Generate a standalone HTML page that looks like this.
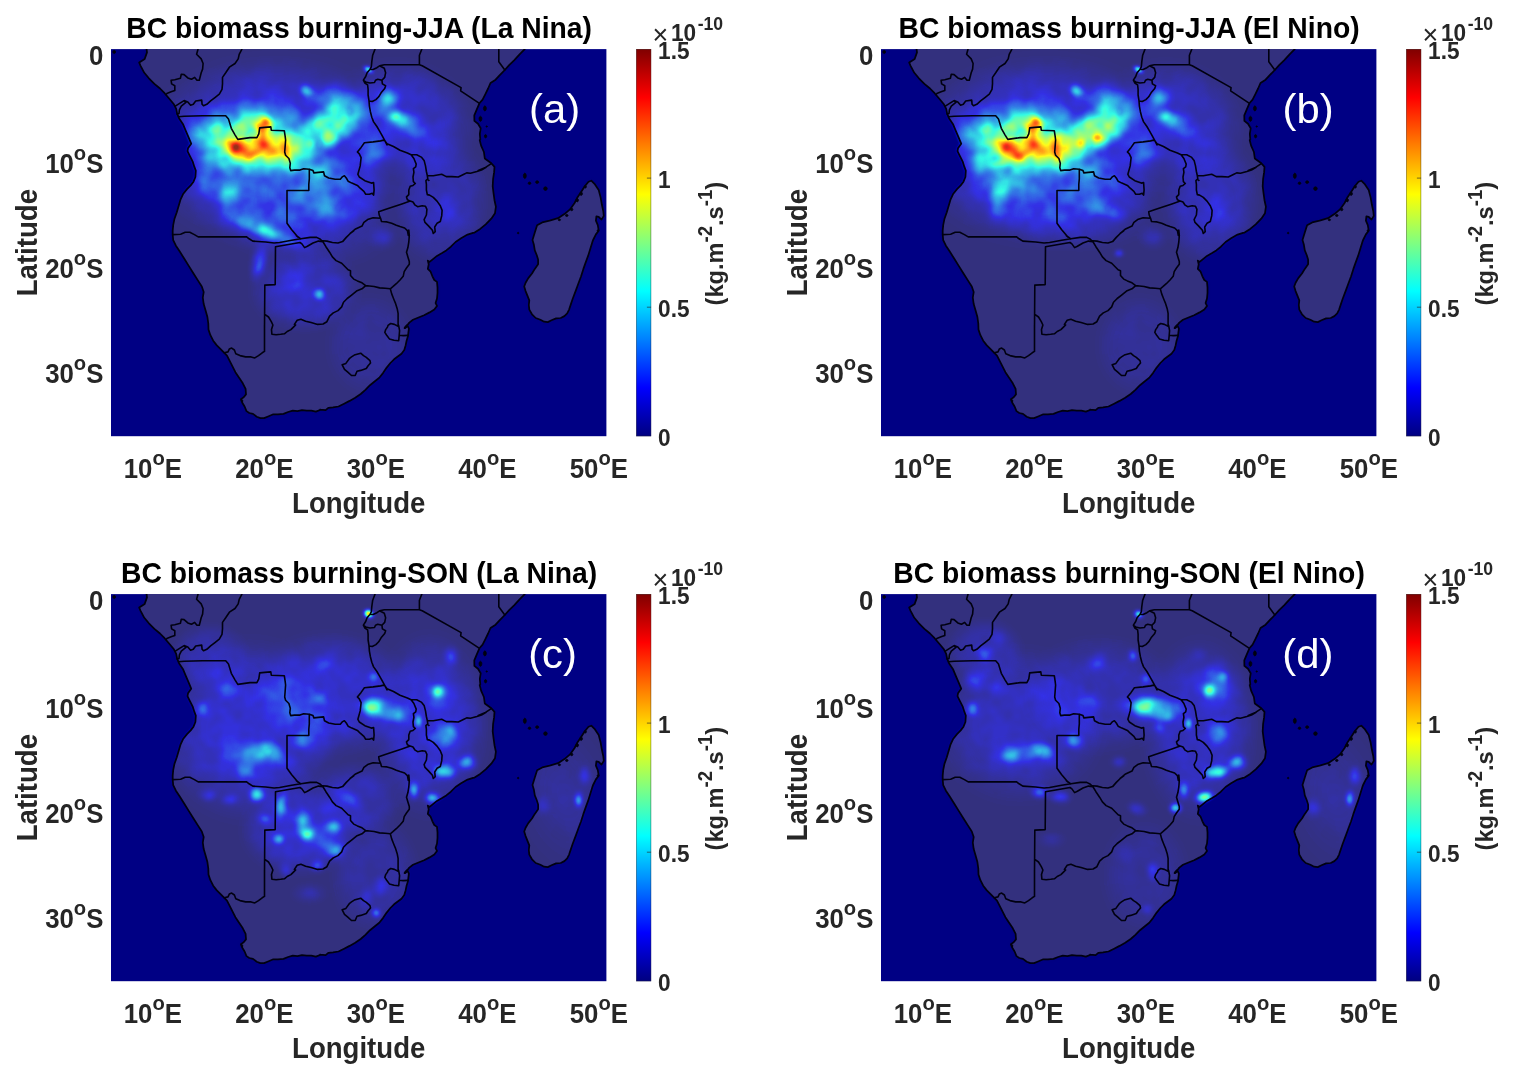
<!DOCTYPE html>
<html lang="en"><head><meta charset="utf-8"><title>BC biomass burning</title>
<style>html,body{margin:0;padding:0;background:#fff}svg{display:block}text{font-family:"Liberation Sans", Arial, Helvetica, sans-serif;font-weight:bold;fill:#262626}</style></head><body>
<svg width="1518" height="1080" viewBox="0 0 1518 1080">
<defs>
<linearGradient id="cb" x1="0" y1="1" x2="0" y2="0"><stop offset="0" stop-color="#000080"/><stop offset="0.03125" stop-color="#00009f"/><stop offset="0.0625" stop-color="#0000bf"/><stop offset="0.09375" stop-color="#0000df"/><stop offset="0.125" stop-color="#0000ff"/><stop offset="0.1562" stop-color="#0020ff"/><stop offset="0.1875" stop-color="#0040ff"/><stop offset="0.2188" stop-color="#0060ff"/><stop offset="0.25" stop-color="#0080ff"/><stop offset="0.2812" stop-color="#009fff"/><stop offset="0.3125" stop-color="#00bfff"/><stop offset="0.3438" stop-color="#00dfff"/><stop offset="0.375" stop-color="#00ffff"/><stop offset="0.4062" stop-color="#20ffdf"/><stop offset="0.4375" stop-color="#40ffbf"/><stop offset="0.4688" stop-color="#60ff9f"/><stop offset="0.5" stop-color="#80ff80"/><stop offset="0.5312" stop-color="#9fff60"/><stop offset="0.5625" stop-color="#bfff40"/><stop offset="0.5938" stop-color="#dfff20"/><stop offset="0.625" stop-color="#ffff00"/><stop offset="0.6562" stop-color="#ffdf00"/><stop offset="0.6875" stop-color="#ffbf00"/><stop offset="0.7188" stop-color="#ff9f00"/><stop offset="0.75" stop-color="#ff8000"/><stop offset="0.7812" stop-color="#ff6000"/><stop offset="0.8125" stop-color="#ff4000"/><stop offset="0.8438" stop-color="#ff2000"/><stop offset="0.875" stop-color="#ff0000"/><stop offset="0.9062" stop-color="#df0000"/><stop offset="0.9375" stop-color="#bf0000"/><stop offset="0.9688" stop-color="#9f0000"/><stop offset="1" stop-color="#800000"/></linearGradient>
<radialGradient id="g"><stop offset="0" stop-color="#fff" stop-opacity="1.000"/><stop offset="0.0833" stop-color="#fff" stop-opacity="0.977"/><stop offset="0.167" stop-color="#fff" stop-opacity="0.910"/><stop offset="0.25" stop-color="#fff" stop-opacity="0.809"/><stop offset="0.333" stop-color="#fff" stop-opacity="0.685"/><stop offset="0.417" stop-color="#fff" stop-opacity="0.552"/><stop offset="0.5" stop-color="#fff" stop-opacity="0.422"/><stop offset="0.583" stop-color="#fff" stop-opacity="0.305"/><stop offset="0.667" stop-color="#fff" stop-opacity="0.206"/><stop offset="0.75" stop-color="#fff" stop-opacity="0.127"/><stop offset="0.833" stop-color="#fff" stop-opacity="0.069"/><stop offset="0.917" stop-color="#fff" stop-opacity="0.028"/><stop offset="1" stop-color="#fff" stop-opacity="0.000"/></radialGradient>
<radialGradient id="f"><stop offset="0" stop-color="#fff" stop-opacity="1.000"/><stop offset="0.0833" stop-color="#fff" stop-opacity="1.000"/><stop offset="0.167" stop-color="#fff" stop-opacity="1.000"/><stop offset="0.25" stop-color="#fff" stop-opacity="1.000"/><stop offset="0.333" stop-color="#fff" stop-opacity="1.000"/><stop offset="0.417" stop-color="#fff" stop-opacity="0.998"/><stop offset="0.5" stop-color="#fff" stop-opacity="0.933"/><stop offset="0.583" stop-color="#fff" stop-opacity="0.787"/><stop offset="0.667" stop-color="#fff" stop-opacity="0.587"/><stop offset="0.75" stop-color="#fff" stop-opacity="0.371"/><stop offset="0.833" stop-color="#fff" stop-opacity="0.179"/><stop offset="0.917" stop-color="#fff" stop-opacity="0.047"/><stop offset="1" stop-color="#fff" stop-opacity="0.000"/></radialGradient>
<filter id="jet" x="0" y="0" width="100%" height="100%" filterUnits="objectBoundingBox" color-interpolation-filters="sRGB"><feGaussianBlur stdDeviation="1.4" result="f0"/><feTurbulence type="fractalNoise" baseFrequency="0.055" numOctaves="2" seed="7" result="n0"/><feGaussianBlur in="n0" stdDeviation="1.2"/><feColorMatrix type="matrix" values="0 0 0 0 1 0 0 0 0 1 0 0 0 0 1 0 0 0 2.2 -0.6" result="n1"/><feComposite in="f0" in2="n1" operator="arithmetic" k1="0.5" k2="0.76" k3="0" k4="0"/><feColorMatrix type="matrix" values="0 0 0 1 0 0 0 0 1 0 0 0 0 1 0 0 0 0 1 0"/><feComponentTransfer><feFuncR type="table" tableValues="0 0 0 0 0 0 0 0 0 0 0 0 0 0 0 0 0 0 0 0 0 0 0 0 0 0.0625 0.125 0.188 0.25 0.312 0.375 0.438 0.5 0.562 0.625 0.688 0.75 0.812 0.875 0.938 1 1 1 1 1 1 1 1 1 1 1 1 1 1 1 1 1 0.938 0.875 0.812 0.75 0.688 0.625 0.562 0.5"/><feFuncG type="table" tableValues="0 0 0 0 0 0 0 0 0 0.0625 0.125 0.188 0.25 0.312 0.375 0.438 0.5 0.562 0.625 0.688 0.75 0.812 0.875 0.938 1 1 1 1 1 1 1 1 1 1 1 1 1 1 1 1 1 0.938 0.875 0.812 0.75 0.688 0.625 0.562 0.5 0.438 0.375 0.312 0.25 0.188 0.125 0.0625 0 0 0 0 0 0 0 0 0"/><feFuncB type="table" tableValues="0.5 0.562 0.625 0.688 0.75 0.812 0.875 0.938 1 1 1 1 1 1 1 1 1 1 1 1 1 1 1 1 1 0.938 0.875 0.812 0.75 0.688 0.625 0.562 0.5 0.438 0.375 0.312 0.25 0.188 0.125 0.0625 0 0 0 0 0 0 0 0 0 0 0 0 0 0 0 0 0 0 0 0 0 0 0 0 0"/><feFuncA type="table" tableValues="1 1 1 1 1 1 1 1 1 1 1 1 1 1 1 1 1 1 1 1 1 1 1 1 1 1 1 1 1 1 1 1 1 1 1 1 1 1 1 1 1 1 1 1 1 1 1 1 1 1 1 1 1 1 1 1 1 1 1 1 1 1 1 1 1"/></feComponentTransfer></filter>
<clipPath id="pc"><rect x="0" y="0" width="495.4" height="387.1"/></clipPath>
<path id="land" d="M35.6 -4.1L35.6 0.1L36 3.3L33.7 9.8L28.2 13.5L29.6 16.7L33.3 23.7L37.9 29.2L43.4 34.8L49 39.4L53.6 44.1L58.3 49.6L62.9 55.2L65.2 59.8L66.1 64.4L68 69.1L72.2 75.5L74.9 82L77.7 88.5L80.2 94.6L77 99.2L76.5 102L78.3 105.7L81.6 112.2L83.4 117.8L84.8 121.5L84.4 127.9L82.5 132.6L79.7 136.3L76 140L72.3 144.6L69.6 150.2L67.7 156.6L65.8 163.1L63.5 169.6L62.2 176.1L61.7 181.6L61.7 185.5L62.2 191.1L64.9 196.6L68.6 202.2L73.3 209.6L77.9 217L82.5 224.4L87.2 231.8L90.8 237.4L92.7 242.9L91.8 248.5L92.7 255L94.6 261.5L96.4 267.9L97.3 274.4L97.5 280.5L99.4 286.1L102.2 291.6L105.8 296.3L109.6 300L113.3 303.7L116 306.5L118.8 312L121.6 317.6L124.4 323.1L128.1 328.7L131.8 334.2L134.6 339.8L135 345.3L132.7 348.1L129.9 350L131.3 353.7L133.6 357.4L135.5 362L138.3 363.9L142 364.8L145.7 367.6L149.4 369L153.1 369L157.7 367.1L162.3 365.2L167 365.2L172.5 364.8L177.1 362.9L181.8 361.5L186.4 362L191 361.1L195.7 361.5L200.3 361.5L204.9 362.5L209.6 360.6L209 360.6L214.6 361.1L217.3 358.8L222 358.3L227.5 357.4L233.1 354.6L238.6 351.8L244.2 348.6L249.7 344.9L254.4 340.7L259 336.1L263.6 332.4L268.3 328.7L272 324L275.7 318.5L279.4 313.9L283.1 310.2L286.8 307.4L290.5 304.6L293.3 300.9L294.6 296.3L295.6 291.6L297 287L297.4 283.3L297.9 279.6L296 275.9L293.6 279L295.5 277.2L298.3 273.5L302 270.7L307.5 268.4L313.1 266.1L318.6 263.3L323.3 260.5L326 256.8L324.6 254L326 249.4L326.5 243.9L326.5 238.3L326 232.8L323.3 230.9L321.4 227.2L319.6 222.6L316.8 219.8L317.7 215.2L316.8 211.5L318.6 212.8L321.4 210.5L326 206.8L330.7 204.1L335.3 201.3L339.9 197.6L344.6 192.9L350.1 189.2L356.6 185.5L362.1 183.7L363.6 183.5L369.2 179.8L374.7 175.2L380.3 169.6L384 164.1L384.9 157.6L383.5 151.1L382.6 144.6L381.7 137.2L382.1 129.8L383.1 123.3L383.5 117.8L380.3 114.1L373.8 109.4L372.9 102.9L370.1 96.5L368.7 90.9L369.3 90.3L368.8 84.8L369.7 79.2L367 74.6L363.4 71.8L363.3 66.3L365.6 60.7L368.4 54.2L371.6 50.5L374.4 45L377.1 39.4L379.5 33.9L384.6 30.6L388.3 26.5L393.8 20.9L398.4 15.8L403.1 11.2L408.6 5.2L413.7 0.1L413.7 -4.1ZM423.8 183.5L426.1 176.1L431.2 173.3L438.6 171.5L447 169.1L453.4 165L459 160.3L463.6 153.9L466.4 148.3L470.1 142.8L473.8 137.2L477.5 132.6L480.3 131.6L484 135.3L487.7 140.9L489.6 148.3L490.9 155.7L492.3 162.2L492.8 166.8L490.5 170.5L487.7 167.8L485.4 167.3L484.9 171.5L486.8 176.1L487.7 181.6L484.9 185.3L482.1 190.9L481.7 192L479.4 199.4L477.1 206.8L474.7 213.3L472.4 219.8L470.1 227.2L467.3 234.6L464.6 242L461.8 249.4L459.9 255L458.1 260.5L456.2 264.2L453.4 267L449.7 268.9L445.1 269.3L440.5 271.2L436.8 273L433.1 272.6L429.4 270.7L424.7 268.9L421 265.2L418.3 260.5L417.8 255.9L418.3 251.3L416.4 246.6L414.6 242L413.2 237.4L414.6 233.7L417.3 229L421 224.4L423.8 219.8L427.1 215.2L427.1 210.5L425.7 205.9L423.8 201.3L422.9 195.7L421.5 190.9Z"/>
<path id="bord" d="M87 0.1L85.6 5.2L90.2 9.8L92.1 14.4L91.6 20L90.2 23.7L88.3 31.1L86 31.1L83.7 28.3L80.5 30.2L76.8 28.8L73.1 25.5L70.3 25.1L69.4 29.2L63.8 30.6L60.1 31.1L60.6 34.8L63.8 36.6L63.8 41.3L60.1 42.7L56.4 44.1L55 45.4M130.9 0.1L128.2 5.2L127.2 9.8L124 14.4L118.4 18.1L114.7 23.7L111.5 28.3L111.5 34.8L111 40.3L108.3 45L103.6 48.7L99.9 51.5L95.8 55.2L92.5 56.6L91.1 55.2L90.7 51L84.7 51.9L82.3 55.2L79.6 56.1L76.8 52.8L73.1 51.5L69.4 53.8L64.3 57M73.1 51.5L74.9 53.3L70.3 57L68.4 60.7L68 64.4L66.1 64.9M67.5 67.7L73.1 67.2L91.6 66.7L114.7 66.7L117.5 70L120.3 79.2L124 85.7L126.8 90.3L139 88.5L145.9 88.5L147.8 84.8L148.7 78.8L153.8 78.3L159.8 77.8L160.3 81.1L173.3 81.6L174.2 87.6L174.6 90.9L174.2 96.5L173.7 102.9L174.6 106.2L177.9 109.4L179.3 114.1L178.8 118.7L179.7 121.5L183.4 121L189 121L192.7 119.6L198.3 120.1M198.3 120.1L198.3 129.8L197.8 135.3L197.8 141.4L176 141.4L176 174.2L180.7 180.7L187.1 188.1L185.3 186.5L189.9 189.7M198.3 120.1L202 121.5L202.9 123.8L207.5 123.3L212.6 122.8L213.5 126.6L217.7 128.9L224.2 130.2L229.3 130.2L231.6 127.5L233.4 126.6L235.3 128.9L237.1 132.1L240.9 134L246.4 136.3L249.2 139.1L252.9 142.3L254.7 145.1L258.4 145.1L261.2 144.1L262.6 146L263.1 140.9L262.6 133.5L260.3 134L253.8 131.6L248.3 127.9L246.9 125.2L249.2 116.8L250.1 108.5L248.3 104.8L246.4 102.9L250.1 98.3L253.4 93.7L262.1 92.8L269.6 91.8L273.3 90.9L271.4 91.3L273.7 91.3M264 0.1L261.7 6.1L260.8 12.6L260.3 17.7L258.9 20.4L256.1 23.7L254.7 27.4L252.4 31.1L253.8 33.9L256.6 35.7L257.1 40.3L257.1 45.9L258 51.5L258.4 57L259.4 62.6L260.8 68.1L262.6 72.8L265.9 77.4L268.6 82L271.4 87.1L273.7 91.3L276 95.9M258.9 20.4L262.1 20.4L265.9 18.6L268.6 16.7L273.3 19.1L274.6 23.7L273.7 28.3L270.9 31.1L271.4 34.8L274.6 36.6L273.7 39.4L270.5 43.1L267.7 47.7L264.9 50.5L261.2 52.4L258.3 51.9M270.9 31.1L266.8 30.2L264.5 31.1L263.5 33.4L258.9 33.9L254.7 32.9L252.9 31.6M268.6 16.7L273.3 15.6L308.4 15.6L311.2 16.7L350.1 38.5L349.6 41.7L351.5 43.1L367.7 53.8M310.8 0.1L308.4 6.1L308.4 15.6M387.8 0.1L387.8 12.6L393.8 20.9M273.3 90.9L276 94.6L282.5 97.4L289 101.1L296.4 103.9L300.1 105.7M300.1 105.7L305.7 105.7L310.3 108L313.1 111.3L314.5 116.8L315.4 122.4L316.3 126.6M316.3 126.6L322.3 126.6L327.9 125.6L330.7 125.2L335.3 127.5L340.9 127.5L347.3 127.9L352.9 125.2L355.7 123.8L359.4 124.2L365.9 122.4L370.5 121L375.1 118.2L367.3 121.5L373.8 118.7L380.3 114.5M300.1 105.7L302.9 109.4L305.2 115L304.7 117.8L302.4 119.6L302.9 123.3L302 127.9L302.4 132.6L304.3 134.4L302 136.3L299.2 137.2L297.8 140.9L297.8 145.5L295.5 147.8L296.4 150.6L299.2 152M299.2 152L302 152.9L303.8 155.7L306.6 157.6L311.2 156.6L314.5 157.1L315.9 160.3L315.4 165.9L313.1 170.5L314 173.3L317.7 177L321.4 181.2L322.3 184.4L324.2 182.6L323.7 177.9L326 174.2L329.3 172.4L330.7 166.8L331.1 161.3L329.3 156.6L326 152L322.3 148.3L318.6 146L316.3 145.5L315.4 140.9L315.4 135.3L314.9 131.6L316.8 129.8L316.3 126.6M299.2 152L290.9 154.8L282.5 157.6L274.2 160.3L267.7 162.7L268.2 165.9L269.6 169.1M269.6 169.1L262.1 168.7L256.6 170.5L252.9 173.3L251 177L244.6 179.8L239 184.4L242.7 181.8L239 184.6L235.3 188.3L231.6 192.5L227 193.9L221.4 193.4L215.9 192L211.2 191.6M269.6 169.1L270.5 172.4L276 172.8L280.7 174.2L285.3 176.1L289 177.5L293.6 178.9L296.4 181.6L297.3 186.3L297.8 180.9L298.3 186.5L297.8 192.9L296.9 198.5L295.5 203.1L296.9 207.8L298.3 212.4L298.3 215.2L295.5 218.9L293.2 222.6L292.2 227.2L289 230.9L285.3 234.6L281.6 237.8L279.3 239.7M279.3 239.7L274.2 239.2L268.6 238.8L263.1 237.4L258.4 236.9L254.7 236.5M212.1 192.9L214.9 197.6L218.6 203.1L221.4 207.8L225.1 211.5L230.7 214.2L234.4 217.9L237.1 220.7L239.5 221.6L239.5 226.3L242.7 230L246.4 231.8L251 233.7L254.7 236.5M254.7 236.5L251 239.7L245.5 242L240.9 245.7L236.2 249.4L232.5 253.1L230.7 257.8L227 261.5L222.3 263.8L218.6 267L215.9 272.6L212.1 274.9L206.6 275.3L200.1 273.5L194.6 272.1L189.9 270.2L186.2 271.2L183.4 275.3L184.6 275.9L182.7 277.8L179.9 280.5L176.2 282.4L173.4 284.7L169.7 285.2L165.1 285.6L160.9 285.2L160.5 280.5L161.9 275.9L160.3 272.6L157.5 267.9L153.8 265.2M61.7 185.5L69.6 185.1L74.2 183.2L78.8 183.2L83.4 185.5L87.2 187.8L135.3 187.6L138.1 189.7L141.8 192L154.7 192.9L163.1 193.9L168.6 193.4L180.7 191.1L189.9 189.7L199.2 188.3L205.7 188.3L209.4 190.2L212.1 192.9M211.7 192.5L207.5 192L202 193.9L196.4 197.1L193.6 198.5L190.9 194.8L189 193.4L164.5 197.6L164.2 235.5L153.8 236L153.5 280.9L153.5 275.9L153.5 302.3L151.2 303.7L147.5 306.5L143.8 308.8L140.1 307.8L134.6 307.8L129 306.5L124.8 304.6L123.4 300.9L120.7 299L118.3 300L117 302.8L113.3 303.7M279.3 239.7L280.7 244.8L282.5 249.4L284.4 254L286.2 259.6L287.1 264.2L287.1 269.8L287.1 275.3L287.7 276.8M287.7 276.8L288.6 281.5L288.2 286.1L287.7 291.6L283.1 291.2L278.4 289.8L275.7 286.1L273.8 283.3L274.7 280.5L276.6 277.8L277 276.3L279.7 274.4L283.4 275.3L287.1 277.2M288.2 286.1L292.3 286.5L297 286.3M231.2 315.7L234.9 314.3L238.6 309.2L240.5 307.8L243.3 306L249.7 304.1L252.5 306.5L255.3 308.3L259 311.5L259.5 313.9L257.1 316.6L255.3 319.4L249.7 321.3L246 322.2L244.2 326.4L240.5 326.4L236.8 323.1L233.5 320.3L231.2 315.7"/>
<path id="isl" d="M4.6 2.8L4.2 4L3.2 4.4L2.2 4L1.8 2.8L2.2 1.7L3.2 1.3L4.2 1.7ZM375.4 59.3L374.9 61.2L373.9 61.9L372.9 61.2L372.4 59.3L372.9 57.5L373.9 56.7L374.9 57.5ZM370.9 69.7L370.5 71.5L369.5 72.3L368.4 71.5L368 69.7L368.4 67.9L369.5 67.1L370.5 67.9ZM375.8 87.1L375.4 88.3L374.6 88.8L373.7 88.3L373.4 87.1L373.7 85.9L374.6 85.4L375.4 85.9ZM376.4 77.4L376.2 77.9L375.8 78.1L375.3 77.9L375.1 77.4L375.3 76.9L375.8 76.6L376.2 76.9ZM415.3 126.7L414.9 128.7L413.8 129.5L412.8 128.7L412.3 126.7L412.8 124.8L413.8 124L414.9 124.8ZM419.9 134.1L419.5 135L418.5 135.3L417.5 135L417.1 134.1L417.5 133.3L418.5 132.9L419.5 133.3ZM427.8 133L427.3 134L426.1 134.4L425 134L424.5 133L425 132.1L426.1 131.6L427.3 132.1ZM436.3 139.5L435.8 140.8L434.5 141.4L433.1 140.8L432.6 139.5L433.1 138.2L434.5 137.7L435.8 138.2ZM408 184L407.7 184.5L407.1 184.8L406.6 184.5L406.3 184L406.6 183.4L407.1 183.1L407.7 183.4ZM471.5 144.6L471.1 145.8L470.1 146.3L469.1 145.8L468.7 144.6L469.1 143.4L470.1 142.9L471.1 143.4ZM467.5 151.1L467.1 152.3L466.2 152.8L465.3 152.3L464.9 151.1L465.3 149.9L466.2 149.4L467.1 149.9ZM461.9 160.3L461.5 161.3L460.7 161.6L459.8 161.3L459.5 160.3L459.8 159.4L460.7 159.1L461.5 159.4ZM457.1 166.4L456.7 167.1L455.8 167.4L454.8 167.1L454.5 166.4L454.8 165.6L455.8 165.3L456.7 165.6ZM449.6 170.7L449.2 171.4L448.4 171.6L447.5 171.4L447.1 170.7L447.5 170.1L448.4 169.8L449.2 170.1ZM475.4 137.7L475.1 138.6L474.3 139L473.5 138.6L473.2 137.7L473.5 136.7L474.3 136.4L475.1 136.7ZM487.8 181.6L487.5 182.4L487 182.8L486.4 182.4L486.1 181.6L486.4 180.9L487 180.5L487.5 180.9ZM318.4 131.2L318.2 131.6L317.7 131.7L317.2 131.6L317 131.2L317.2 130.8L317.7 130.6L318.2 130.8ZM295.6 278.2L295.3 279L294.6 279.3L294 279L293.7 278.2L294 277.4L294.6 277.1L295.3 277.4ZM131.8 351.8L131.6 352.7L131 353.1L130.5 352.7L130.3 351.8L130.5 350.9L131 350.5L131.6 350.9Z"/>
<filter id="mb" x="-5%" y="-5%" width="110%" height="110%"><feGaussianBlur stdDeviation="1.0"/></filter>
<mask id="lm" maskUnits="userSpaceOnUse" x="-20" y="-20" width="535.4" height="427.1"><use href="#land" fill="#fff" stroke="#fff" stroke-width="2" filter="url(#mb)"/></mask>
</defs>
<g transform="translate(111 49.1)">
<rect x="0" y="0" width="495.4" height="387.1" fill="#000084"/>
<g clip-path="url(#pc)">
<g mask="url(#lm)"><g filter="url(#jet)">
<rect x="-20" y="-20" width="535.4" height="427.1" fill="#fff" fill-opacity="0"/>
<ellipse cx="164" cy="100.9" rx="142.9" ry="102.9" fill="url(#f)" opacity="0.12"/>
<ellipse cx="179" cy="155.9" rx="114.3" ry="64.3" fill="url(#f)" opacity="0.06" transform="rotate(15 179 155.9)"/>
<ellipse cx="219" cy="145.9" rx="71.4" ry="45.7" fill="url(#f)" opacity="0.05"/>
<ellipse cx="191" cy="112.9" rx="51.4" ry="20" fill="url(#f)" opacity="0.10" transform="rotate(15 191 112.9)"/>
<ellipse cx="294" cy="70.9" rx="78.6" ry="64.3" fill="url(#f)" opacity="0.08" transform="rotate(20 294 70.9)"/>
<ellipse cx="194" cy="240.9" rx="60" ry="45.7" fill="url(#f)" opacity="0.08"/>
<ellipse cx="259" cy="295.9" rx="50" ry="57.1" fill="url(#f)" opacity="0.03"/>
<ellipse cx="329" cy="150.9" rx="54.3" ry="71.4" fill="url(#f)" opacity="0.06"/>
<ellipse cx="141" cy="88.9" rx="85.7" ry="45.7" fill="url(#f)" opacity="0.15"/>
<ellipse cx="141" cy="93.9" rx="71.4" ry="37.1" fill="url(#f)" opacity="0.20" transform="rotate(3 141 93.9)"/>
<ellipse cx="145" cy="97.9" rx="52.9" ry="18.6" fill="url(#f)" opacity="0.28" transform="rotate(3 145 97.9)"/>
<ellipse cx="147" cy="85.9" rx="31.1" ry="20" fill="url(#g)" opacity="0.25"/>
<ellipse cx="125" cy="99.9" rx="22.2" ry="17.8" fill="url(#g)" opacity="0.25" transform="rotate(25 125 99.9)"/>
<ellipse cx="153" cy="86.9" rx="11.1" ry="26.7" fill="url(#g)" opacity="0.24" transform="rotate(5 153 86.9)"/>
<ellipse cx="177" cy="100.9" rx="13.3" ry="15.6" fill="url(#g)" opacity="0.30"/>
<ellipse cx="123.5" cy="99.4" rx="14.4" ry="10" fill="url(#g)" opacity="0.80" transform="rotate(40 123.5 99.4)"/>
<ellipse cx="152.5" cy="76.9" rx="13.3" ry="14.4" fill="url(#g)" opacity="0.93"/>
<ellipse cx="153.5" cy="97.9" rx="7.8" ry="13.3" fill="url(#g)" opacity="0.10"/>
<ellipse cx="139" cy="102.9" rx="17.8" ry="8.9" fill="url(#g)" opacity="0.10" transform="rotate(10 139 102.9)"/>
<ellipse cx="211" cy="82.9" rx="48.6" ry="24.3" fill="url(#f)" opacity="0.20" transform="rotate(-32 211 82.9)"/>
<ellipse cx="223" cy="60.9" rx="31.1" ry="37.8" fill="url(#g)" opacity="0.20"/>
<ellipse cx="217" cy="88.4" rx="15.6" ry="13.3" fill="url(#g)" opacity="0.28" transform="rotate(-30 217 88.4)"/>
<ellipse cx="241" cy="62.9" rx="31.1" ry="26.7" fill="url(#g)" opacity="0.16"/>
<ellipse cx="195.6" cy="41.4" rx="11.1" ry="8.9" fill="url(#g)" opacity="0.22" transform="rotate(25 195.6 41.4)"/>
<ellipse cx="257.5" cy="20.7" rx="7.8" ry="4.4" fill="url(#g)" opacity="0.50" transform="rotate(30 257.5 20.7)"/>
<ellipse cx="277" cy="49.9" rx="15.6" ry="17.8" fill="url(#g)" opacity="0.26"/>
<ellipse cx="286.5" cy="68.4" rx="13.3" ry="11.1" fill="url(#g)" opacity="0.32" transform="rotate(30 286.5 68.4)"/>
<ellipse cx="294" cy="72.9" rx="53.3" ry="17.8" fill="url(#g)" opacity="0.14" transform="rotate(30 294 72.9)"/>
<ellipse cx="260" cy="103.9" rx="26.7" ry="20" fill="url(#g)" opacity="0.12"/>
<ellipse cx="118" cy="146.9" rx="22.2" ry="20" fill="url(#g)" opacity="0.18"/>
<ellipse cx="92" cy="132.9" rx="20" ry="22.2" fill="url(#g)" opacity="0.10"/>
<ellipse cx="157" cy="182.9" rx="53.3" ry="11.1" fill="url(#g)" opacity="0.20" transform="rotate(22 157 182.9)"/>
<ellipse cx="151" cy="176.9" rx="71.1" ry="26.7" fill="url(#g)" opacity="0.08" transform="rotate(22 151 176.9)"/>
<ellipse cx="148" cy="213.9" rx="11.1" ry="24.4" fill="url(#g)" opacity="0.18" transform="rotate(10 148 213.9)"/>
<ellipse cx="208.3" cy="244.9" rx="8.9" ry="8.9" fill="url(#g)" opacity="0.36"/>
<ellipse cx="184" cy="231.9" rx="17.8" ry="15.6" fill="url(#g)" opacity="0.07"/>
<ellipse cx="221" cy="162.9" rx="20" ry="20" fill="url(#g)" opacity="0.12"/>
<ellipse cx="444" cy="150.9" rx="17.8" ry="22.2" fill="url(#g)" opacity="0.05"/>
<ellipse cx="272" cy="187.9" rx="17.8" ry="15.6" fill="url(#g)" opacity="0.07"/>
<ellipse cx="336" cy="160.9" rx="20" ry="20" fill="url(#g)" opacity="0.06"/>
</g></g>
<use href="#land" fill="#fff07e" fill-opacity="0.2" stroke="#000010" stroke-width="1.75" stroke-linejoin="round"/>
<use href="#bord" fill="none" stroke="#000010" stroke-width="1.6" stroke-linejoin="round" stroke-linecap="round"/>
<use href="#isl" fill="#000010" stroke="#000010" stroke-width="0.8"/>
</g>
</g>
<rect x="636.2" y="49.1" width="14.9" height="387.1" fill="url(#cb)"/>
<rect x="636.5" y="49.4" width="14.4" height="386.6" fill="none" stroke="#262626" stroke-opacity="0.6" stroke-width="0.6"/>
<text transform="translate(658.1 445.7) scale(1 1.04)" font-size="22.6">0</text>
<path d="M651.1 307.2h-4.2" stroke="#262626" stroke-opacity="0.8" stroke-width="0.8"/>
<text transform="translate(658.1 316.67) scale(1 1.04)" font-size="22.6">0.5</text>
<path d="M651.1 178.1h-4.2" stroke="#262626" stroke-opacity="0.8" stroke-width="0.8"/>
<text transform="translate(658.1 187.63) scale(1 1.04)" font-size="22.6">1</text>
<text transform="translate(658.1 58.6) scale(1 1.04)" font-size="22.6">1.5</text>
<text transform="translate(652.5 41.1) scale(1 1.04)" font-size="22.6"><tspan font-weight="normal" font-size="27" dy="2.8">×</tspan><tspan dx="2.8" dy="-2.8">10</tspan><tspan font-size="17.6" dx="1.5" dy="-11.0">-10</tspan></text>
<text transform="translate(723.4 243.65) rotate(-90) scale(1 1.04)" text-anchor="middle" font-size="23.6">(kg.m<tspan font-size="18.6" dy="-10.5">-2</tspan><tspan dy="10.5">.s</tspan><tspan font-size="18.6" dy="-10.5">-1</tspan><tspan dy="10.5">)</tspan></text>
<text transform="translate(359.1 38.2) scale(1 1.04)" text-anchor="middle" font-size="28.3" style="fill:#000">BC biomass burning-JJA (La Nina)</text>
<text transform="translate(529 123) scale(1 0.965)" font-size="41.8" style="fill:#fff;font-weight:normal">(a)</text>
<text transform="translate(152.9 477.7) scale(1 1.04)" text-anchor="middle" font-size="25.8">10<tspan font-size="20.2" dy="-12.5">o</tspan><tspan dy="12.5">E</tspan></text>
<text transform="translate(264.4 477.7) scale(1 1.04)" text-anchor="middle" font-size="25.8">20<tspan font-size="20.2" dy="-12.5">o</tspan><tspan dy="12.5">E</tspan></text>
<text transform="translate(375.9 477.7) scale(1 1.04)" text-anchor="middle" font-size="25.8">30<tspan font-size="20.2" dy="-12.5">o</tspan><tspan dy="12.5">E</tspan></text>
<text transform="translate(487.4 477.7) scale(1 1.04)" text-anchor="middle" font-size="25.8">40<tspan font-size="20.2" dy="-12.5">o</tspan><tspan dy="12.5">E</tspan></text>
<text transform="translate(598.9 477.7) scale(1 1.04)" text-anchor="middle" font-size="25.8">50<tspan font-size="20.2" dy="-12.5">o</tspan><tspan dy="12.5">E</tspan></text>
<text transform="translate(358.7 513.2) scale(1 1.04)" text-anchor="middle" font-size="27.6">Longitude</text>
<text transform="translate(103.4 64.9) scale(1 1.04)" text-anchor="end" font-size="25.8">0</text>
<text transform="translate(103.4 173.35) scale(1 1.04)" text-anchor="end" font-size="25.8">10<tspan font-size="20.2" dy="-12.5">o</tspan><tspan dy="12.5">S</tspan></text>
<text transform="translate(103.4 278.2) scale(1 1.04)" text-anchor="end" font-size="25.8">20<tspan font-size="20.2" dy="-12.5">o</tspan><tspan dy="12.5">S</tspan></text>
<text transform="translate(103.4 383.05) scale(1 1.04)" text-anchor="end" font-size="25.8">30<tspan font-size="20.2" dy="-12.5">o</tspan><tspan dy="12.5">S</tspan></text>
<text transform="translate(36.6 242.65) rotate(-90) scale(1 1.04)" text-anchor="middle" font-size="27.6">Latitude</text>
<g transform="translate(881 49.1)">
<rect x="0" y="0" width="495.4" height="387.1" fill="#000084"/>
<g clip-path="url(#pc)">
<g mask="url(#lm)"><g filter="url(#jet)">
<rect x="-20" y="-20" width="535.4" height="427.1" fill="#fff" fill-opacity="0"/>
<ellipse cx="164" cy="100.9" rx="142.9" ry="102.9" fill="url(#f)" opacity="0.12"/>
<ellipse cx="174" cy="145.9" rx="111.4" ry="57.1" fill="url(#f)" opacity="0.07" transform="rotate(10 174 145.9)"/>
<ellipse cx="102" cy="115.9" rx="17.8" ry="22.2" fill="url(#g)" opacity="0.12"/>
<ellipse cx="132" cy="130.9" rx="31.1" ry="26.7" fill="url(#g)" opacity="0.10"/>
<ellipse cx="294" cy="70.9" rx="78.6" ry="64.3" fill="url(#f)" opacity="0.07" transform="rotate(20 294 70.9)"/>
<ellipse cx="259" cy="295.9" rx="50" ry="57.1" fill="url(#f)" opacity="0.03"/>
<ellipse cx="329" cy="150.9" rx="54.3" ry="71.4" fill="url(#f)" opacity="0.07"/>
<ellipse cx="143" cy="88.9" rx="88.6" ry="45.7" fill="url(#f)" opacity="0.15"/>
<ellipse cx="145" cy="93.9" rx="74.3" ry="37.1" fill="url(#f)" opacity="0.20" transform="rotate(3 145 93.9)"/>
<ellipse cx="147" cy="98.9" rx="54.3" ry="17.1" fill="url(#f)" opacity="0.26" transform="rotate(3 147 98.9)"/>
<ellipse cx="147" cy="85.9" rx="31.1" ry="20" fill="url(#g)" opacity="0.22"/>
<ellipse cx="127" cy="100.9" rx="26.7" ry="17.8" fill="url(#g)" opacity="0.25" transform="rotate(30 127 100.9)"/>
<ellipse cx="153" cy="86.9" rx="11.1" ry="26.7" fill="url(#g)" opacity="0.24" transform="rotate(5 153 86.9)"/>
<ellipse cx="178" cy="99.9" rx="13.3" ry="17.8" fill="url(#g)" opacity="0.40"/>
<ellipse cx="120" cy="113.9" rx="11.1" ry="8.9" fill="url(#g)" opacity="0.20"/>
<ellipse cx="124" cy="99.4" rx="17.8" ry="10" fill="url(#g)" opacity="0.45" transform="rotate(38 124 99.4)"/>
<ellipse cx="137" cy="106.9" rx="13.3" ry="6.7" fill="url(#g)" opacity="0.18" transform="rotate(30 137 106.9)"/>
<ellipse cx="153" cy="76.9" rx="13.3" ry="14.4" fill="url(#g)" opacity="0.93"/>
<ellipse cx="153.5" cy="98.9" rx="8.9" ry="13.3" fill="url(#g)" opacity="0.10"/>
<ellipse cx="209" cy="84.9" rx="51.4" ry="24.3" fill="url(#f)" opacity="0.24" transform="rotate(-28 209 84.9)"/>
<ellipse cx="225" cy="62.9" rx="28.9" ry="40" fill="url(#g)" opacity="0.22"/>
<ellipse cx="211" cy="88.9" rx="35.6" ry="17.8" fill="url(#g)" opacity="0.16" transform="rotate(-15 211 88.9)"/>
<ellipse cx="191" cy="112.9" rx="51.4" ry="20" fill="url(#f)" opacity="0.08" transform="rotate(15 191 112.9)"/>
<ellipse cx="216.7" cy="88.9" rx="7.8" ry="5.6" fill="url(#g)" opacity="0.50"/>
<ellipse cx="207" cy="90.9" rx="26.7" ry="13.3" fill="url(#g)" opacity="0.25" transform="rotate(-10 207 90.9)"/>
<ellipse cx="241" cy="62.9" rx="31.1" ry="26.7" fill="url(#g)" opacity="0.14"/>
<ellipse cx="195.6" cy="41.4" rx="11.1" ry="8.9" fill="url(#g)" opacity="0.25" transform="rotate(25 195.6 41.4)"/>
<ellipse cx="257.5" cy="20.7" rx="7.8" ry="4.4" fill="url(#g)" opacity="0.55" transform="rotate(30 257.5 20.7)"/>
<ellipse cx="278" cy="48.9" rx="15.6" ry="17.8" fill="url(#g)" opacity="0.22"/>
<ellipse cx="286.5" cy="68.4" rx="13.3" ry="11.1" fill="url(#g)" opacity="0.28" transform="rotate(30 286.5 68.4)"/>
<ellipse cx="294" cy="72.9" rx="53.3" ry="17.8" fill="url(#g)" opacity="0.12" transform="rotate(30 294 72.9)"/>
<ellipse cx="260" cy="103.9" rx="26.7" ry="20" fill="url(#g)" opacity="0.12"/>
<ellipse cx="118.3" cy="148.9" rx="15.6" ry="26.7" fill="url(#g)" opacity="0.18" transform="rotate(10 118.3 148.9)"/>
<ellipse cx="225" cy="160.9" rx="26.7" ry="13.3" fill="url(#g)" opacity="0.14" transform="rotate(20 225 160.9)"/>
<ellipse cx="238" cy="204.1" rx="6.7" ry="5.6" fill="url(#g)" opacity="0.16"/>
<ellipse cx="272" cy="187.9" rx="17.8" ry="15.6" fill="url(#g)" opacity="0.06"/>
<ellipse cx="336" cy="160.9" rx="20" ry="20" fill="url(#g)" opacity="0.06"/>
</g></g>
<use href="#land" fill="#fff07e" fill-opacity="0.2" stroke="#000010" stroke-width="1.75" stroke-linejoin="round"/>
<use href="#bord" fill="none" stroke="#000010" stroke-width="1.6" stroke-linejoin="round" stroke-linecap="round"/>
<use href="#isl" fill="#000010" stroke="#000010" stroke-width="0.8"/>
</g>
</g>
<rect x="1406.2" y="49.1" width="14.9" height="387.1" fill="url(#cb)"/>
<rect x="1406.5" y="49.4" width="14.4" height="386.6" fill="none" stroke="#262626" stroke-opacity="0.6" stroke-width="0.6"/>
<text transform="translate(1428.1 445.7) scale(1 1.04)" font-size="22.6">0</text>
<path d="M1421.1 307.2h-4.2" stroke="#262626" stroke-opacity="0.8" stroke-width="0.8"/>
<text transform="translate(1428.1 316.67) scale(1 1.04)" font-size="22.6">0.5</text>
<path d="M1421.1 178.1h-4.2" stroke="#262626" stroke-opacity="0.8" stroke-width="0.8"/>
<text transform="translate(1428.1 187.63) scale(1 1.04)" font-size="22.6">1</text>
<text transform="translate(1428.1 58.6) scale(1 1.04)" font-size="22.6">1.5</text>
<text transform="translate(1422.5 41.1) scale(1 1.04)" font-size="22.6"><tspan font-weight="normal" font-size="27" dy="2.8">×</tspan><tspan dx="2.8" dy="-2.8">10</tspan><tspan font-size="17.6" dx="1.5" dy="-11.0">-10</tspan></text>
<text transform="translate(1493.4 243.65) rotate(-90) scale(1 1.04)" text-anchor="middle" font-size="23.6">(kg.m<tspan font-size="18.6" dy="-10.5">-2</tspan><tspan dy="10.5">.s</tspan><tspan font-size="18.6" dy="-10.5">-1</tspan><tspan dy="10.5">)</tspan></text>
<text transform="translate(1129.1 38.2) scale(1 1.04)" text-anchor="middle" font-size="28.3" style="fill:#000">BC biomass burning-JJA (El Nino)</text>
<text transform="translate(1282.5 123) scale(1 0.965)" font-size="41.8" style="fill:#fff;font-weight:normal">(b)</text>
<text transform="translate(922.9 477.7) scale(1 1.04)" text-anchor="middle" font-size="25.8">10<tspan font-size="20.2" dy="-12.5">o</tspan><tspan dy="12.5">E</tspan></text>
<text transform="translate(1034.4 477.7) scale(1 1.04)" text-anchor="middle" font-size="25.8">20<tspan font-size="20.2" dy="-12.5">o</tspan><tspan dy="12.5">E</tspan></text>
<text transform="translate(1145.9 477.7) scale(1 1.04)" text-anchor="middle" font-size="25.8">30<tspan font-size="20.2" dy="-12.5">o</tspan><tspan dy="12.5">E</tspan></text>
<text transform="translate(1257.4 477.7) scale(1 1.04)" text-anchor="middle" font-size="25.8">40<tspan font-size="20.2" dy="-12.5">o</tspan><tspan dy="12.5">E</tspan></text>
<text transform="translate(1368.9 477.7) scale(1 1.04)" text-anchor="middle" font-size="25.8">50<tspan font-size="20.2" dy="-12.5">o</tspan><tspan dy="12.5">E</tspan></text>
<text transform="translate(1128.7 513.2) scale(1 1.04)" text-anchor="middle" font-size="27.6">Longitude</text>
<text transform="translate(873.4 64.9) scale(1 1.04)" text-anchor="end" font-size="25.8">0</text>
<text transform="translate(873.4 173.35) scale(1 1.04)" text-anchor="end" font-size="25.8">10<tspan font-size="20.2" dy="-12.5">o</tspan><tspan dy="12.5">S</tspan></text>
<text transform="translate(873.4 278.2) scale(1 1.04)" text-anchor="end" font-size="25.8">20<tspan font-size="20.2" dy="-12.5">o</tspan><tspan dy="12.5">S</tspan></text>
<text transform="translate(873.4 383.05) scale(1 1.04)" text-anchor="end" font-size="25.8">30<tspan font-size="20.2" dy="-12.5">o</tspan><tspan dy="12.5">S</tspan></text>
<text transform="translate(806.6 242.65) rotate(-90) scale(1 1.04)" text-anchor="middle" font-size="27.6">Latitude</text>
<g transform="translate(111 594.1)">
<rect x="0" y="0" width="495.4" height="387.1" fill="#000084"/>
<g clip-path="url(#pc)">
<g mask="url(#lm)"><g filter="url(#jet)">
<rect x="-20" y="-20" width="535.4" height="427.1" fill="#fff" fill-opacity="0"/>
<ellipse cx="139" cy="135.9" rx="100" ry="100" fill="url(#f)" opacity="0.09"/>
<ellipse cx="219" cy="100.9" rx="88.6" ry="68.6" fill="url(#f)" opacity="0.09"/>
<ellipse cx="189" cy="235.9" rx="64.3" ry="50" fill="url(#f)" opacity="0.09"/>
<ellipse cx="319" cy="130.9" rx="64.3" ry="100" fill="url(#f)" opacity="0.09"/>
<ellipse cx="244" cy="205.9" rx="50" ry="42.9" fill="url(#f)" opacity="0.06"/>
<ellipse cx="264" cy="280.9" rx="50" ry="64.3" fill="url(#f)" opacity="0.04"/>
<ellipse cx="99" cy="60.9" rx="42.9" ry="35.7" fill="url(#f)" opacity="0.05"/>
<ellipse cx="257.7" cy="19.8" rx="7.1" ry="5.8" fill="url(#g)" opacity="0.88" transform="rotate(30 257.7 19.8)"/>
<ellipse cx="261.5" cy="112.4" rx="17.8" ry="13.3" fill="url(#g)" opacity="0.30" transform="rotate(10 261.5 112.4)"/>
<ellipse cx="275" cy="116.9" rx="35.6" ry="15.6" fill="url(#g)" opacity="0.22" transform="rotate(15 275 116.9)"/>
<ellipse cx="286" cy="119.9" rx="13.3" ry="11.1" fill="url(#g)" opacity="0.15"/>
<ellipse cx="307.5" cy="127.4" rx="5.6" ry="10" fill="url(#g)" opacity="0.30"/>
<ellipse cx="262.4" cy="82.3" rx="7.8" ry="8.9" fill="url(#g)" opacity="0.16"/>
<ellipse cx="327.2" cy="98.5" rx="8.9" ry="10" fill="url(#g)" opacity="0.34"/>
<ellipse cx="326" cy="100.9" rx="22.2" ry="22.2" fill="url(#g)" opacity="0.12"/>
<ellipse cx="340" cy="61.5" rx="11.1" ry="13.3" fill="url(#g)" opacity="0.12"/>
<ellipse cx="333" cy="140.2" rx="26.7" ry="20" fill="url(#g)" opacity="0.16"/>
<ellipse cx="356" cy="167.9" rx="13.3" ry="11.1" fill="url(#g)" opacity="0.22"/>
<ellipse cx="333.5" cy="177.9" rx="15.6" ry="11.1" fill="url(#g)" opacity="0.30"/>
<ellipse cx="321.4" cy="203.9" rx="11.1" ry="8.9" fill="url(#g)" opacity="0.24"/>
<ellipse cx="302.9" cy="195.7" rx="7.8" ry="13.3" fill="url(#g)" opacity="0.22"/>
<ellipse cx="339.4" cy="135.6" rx="11.1" ry="11.1" fill="url(#g)" opacity="0.10"/>
<ellipse cx="208" cy="104.3" rx="13.3" ry="13.3" fill="url(#g)" opacity="0.16"/>
<ellipse cx="215" cy="68.4" rx="15.6" ry="13.3" fill="url(#g)" opacity="0.08"/>
<ellipse cx="157" cy="156.4" rx="17.8" ry="13.3" fill="url(#g)" opacity="0.32"/>
<ellipse cx="141" cy="158.9" rx="48.9" ry="17.8" fill="url(#g)" opacity="0.20" transform="rotate(10 141 158.9)"/>
<ellipse cx="115.4" cy="96.2" rx="15.6" ry="15.6" fill="url(#g)" opacity="0.13"/>
<ellipse cx="91" cy="114.7" rx="8.9" ry="11.1" fill="url(#g)" opacity="0.12"/>
<ellipse cx="145.5" cy="200.5" rx="11.1" ry="11.1" fill="url(#g)" opacity="0.34"/>
<ellipse cx="136" cy="176.9" rx="17.8" ry="15.6" fill="url(#g)" opacity="0.14"/>
<ellipse cx="96.9" cy="200.9" rx="11.1" ry="8.9" fill="url(#g)" opacity="0.10"/>
<ellipse cx="118.5" cy="204.9" rx="11.1" ry="8.9" fill="url(#g)" opacity="0.10"/>
<ellipse cx="196" cy="239.7" rx="11.1" ry="8.9" fill="url(#g)" opacity="0.28"/>
<ellipse cx="192.4" cy="227.9" rx="11.1" ry="15.6" fill="url(#g)" opacity="0.20"/>
<ellipse cx="167.5" cy="245.6" rx="8.9" ry="7.8" fill="url(#g)" opacity="0.24"/>
<ellipse cx="170.5" cy="211.7" rx="8.9" ry="22.2" fill="url(#g)" opacity="0.20" transform="rotate(10 170.5 211.7)"/>
<ellipse cx="154.6" cy="225.7" rx="11.1" ry="8.9" fill="url(#g)" opacity="0.16"/>
<ellipse cx="222.2" cy="233.6" rx="11.1" ry="11.1" fill="url(#g)" opacity="0.20"/>
<ellipse cx="224.2" cy="255.5" rx="11.1" ry="11.1" fill="url(#g)" opacity="0.22"/>
<ellipse cx="209" cy="242.9" rx="48.9" ry="17.8" fill="url(#g)" opacity="0.14" transform="rotate(35 209 242.9)"/>
<ellipse cx="206.3" cy="271.5" rx="11.1" ry="8.9" fill="url(#g)" opacity="0.12"/>
<ellipse cx="174.5" cy="275.4" rx="8.9" ry="11.1" fill="url(#g)" opacity="0.12"/>
<ellipse cx="194" cy="146.9" rx="15.6" ry="13.3" fill="url(#g)" opacity="0.12"/>
<ellipse cx="238.2" cy="203.9" rx="22.2" ry="11.1" fill="url(#g)" opacity="0.12" transform="rotate(30 238.2 203.9)"/>
<ellipse cx="265" cy="319.2" rx="6.7" ry="6.7" fill="url(#g)" opacity="0.24"/>
<ellipse cx="270" cy="291.4" rx="11.1" ry="15.6" fill="url(#g)" opacity="0.10"/>
<ellipse cx="256" cy="302.9" rx="11.1" ry="17.8" fill="url(#g)" opacity="0.06" transform="rotate(20 256 302.9)"/>
<ellipse cx="198.4" cy="299.3" rx="22.2" ry="13.3" fill="url(#g)" opacity="0.05"/>
<ellipse cx="467.7" cy="205.6" rx="6.7" ry="11.1" fill="url(#g)" opacity="0.24"/>
<ellipse cx="474" cy="181.9" rx="8.9" ry="13.3" fill="url(#g)" opacity="0.12"/>
<ellipse cx="432.7" cy="210.9" rx="11.1" ry="13.3" fill="url(#g)" opacity="0.07"/>
<ellipse cx="454" cy="200.9" rx="55.6" ry="88.9" fill="url(#g)" opacity="0.04" transform="rotate(-15 454 200.9)"/>
</g></g>
<use href="#land" fill="#fff07e" fill-opacity="0.2" stroke="#000010" stroke-width="1.75" stroke-linejoin="round"/>
<use href="#bord" fill="none" stroke="#000010" stroke-width="1.6" stroke-linejoin="round" stroke-linecap="round"/>
<use href="#isl" fill="#000010" stroke="#000010" stroke-width="0.8"/>
</g>
</g>
<rect x="636.2" y="594.1" width="14.9" height="387.1" fill="url(#cb)"/>
<rect x="636.5" y="594.4" width="14.4" height="386.6" fill="none" stroke="#262626" stroke-opacity="0.6" stroke-width="0.6"/>
<text transform="translate(658.1 990.7) scale(1 1.04)" font-size="22.6">0</text>
<path d="M651.1 852.2h-4.2" stroke="#262626" stroke-opacity="0.8" stroke-width="0.8"/>
<text transform="translate(658.1 861.67) scale(1 1.04)" font-size="22.6">0.5</text>
<path d="M651.1 723.1h-4.2" stroke="#262626" stroke-opacity="0.8" stroke-width="0.8"/>
<text transform="translate(658.1 732.63) scale(1 1.04)" font-size="22.6">1</text>
<text transform="translate(658.1 603.6) scale(1 1.04)" font-size="22.6">1.5</text>
<text transform="translate(652.5 586.1) scale(1 1.04)" font-size="22.6"><tspan font-weight="normal" font-size="27" dy="2.8">×</tspan><tspan dx="2.8" dy="-2.8">10</tspan><tspan font-size="17.6" dx="1.5" dy="-11.0">-10</tspan></text>
<text transform="translate(723.4 788.65) rotate(-90) scale(1 1.04)" text-anchor="middle" font-size="23.6">(kg.m<tspan font-size="18.6" dy="-10.5">-2</tspan><tspan dy="10.5">.s</tspan><tspan font-size="18.6" dy="-10.5">-1</tspan><tspan dy="10.5">)</tspan></text>
<text transform="translate(359.1 583.2) scale(1 1.04)" text-anchor="middle" font-size="28.3" style="fill:#000">BC biomass burning-SON (La Nina)</text>
<text transform="translate(528.2 668) scale(1 0.965)" font-size="41.8" style="fill:#fff;font-weight:normal">(c)</text>
<text transform="translate(152.9 1022.7) scale(1 1.04)" text-anchor="middle" font-size="25.8">10<tspan font-size="20.2" dy="-12.5">o</tspan><tspan dy="12.5">E</tspan></text>
<text transform="translate(264.4 1022.7) scale(1 1.04)" text-anchor="middle" font-size="25.8">20<tspan font-size="20.2" dy="-12.5">o</tspan><tspan dy="12.5">E</tspan></text>
<text transform="translate(375.9 1022.7) scale(1 1.04)" text-anchor="middle" font-size="25.8">30<tspan font-size="20.2" dy="-12.5">o</tspan><tspan dy="12.5">E</tspan></text>
<text transform="translate(487.4 1022.7) scale(1 1.04)" text-anchor="middle" font-size="25.8">40<tspan font-size="20.2" dy="-12.5">o</tspan><tspan dy="12.5">E</tspan></text>
<text transform="translate(598.9 1022.7) scale(1 1.04)" text-anchor="middle" font-size="25.8">50<tspan font-size="20.2" dy="-12.5">o</tspan><tspan dy="12.5">E</tspan></text>
<text transform="translate(358.7 1058.2) scale(1 1.04)" text-anchor="middle" font-size="27.6">Longitude</text>
<text transform="translate(103.4 609.9) scale(1 1.04)" text-anchor="end" font-size="25.8">0</text>
<text transform="translate(103.4 718.35) scale(1 1.04)" text-anchor="end" font-size="25.8">10<tspan font-size="20.2" dy="-12.5">o</tspan><tspan dy="12.5">S</tspan></text>
<text transform="translate(103.4 823.2) scale(1 1.04)" text-anchor="end" font-size="25.8">20<tspan font-size="20.2" dy="-12.5">o</tspan><tspan dy="12.5">S</tspan></text>
<text transform="translate(103.4 928.05) scale(1 1.04)" text-anchor="end" font-size="25.8">30<tspan font-size="20.2" dy="-12.5">o</tspan><tspan dy="12.5">S</tspan></text>
<text transform="translate(36.6 787.65) rotate(-90) scale(1 1.04)" text-anchor="middle" font-size="27.6">Latitude</text>
<g transform="translate(881 594.1)">
<rect x="0" y="0" width="495.4" height="387.1" fill="#000084"/>
<g clip-path="url(#pc)">
<g mask="url(#lm)"><g filter="url(#jet)">
<rect x="-20" y="-20" width="535.4" height="427.1" fill="#fff" fill-opacity="0"/>
<ellipse cx="139" cy="130.9" rx="92.9" ry="85.7" fill="url(#f)" opacity="0.07"/>
<ellipse cx="219" cy="100.9" rx="85.7" ry="64.3" fill="url(#f)" opacity="0.06"/>
<ellipse cx="319" cy="135.9" rx="64.3" ry="100" fill="url(#f)" opacity="0.08"/>
<ellipse cx="264" cy="280.9" rx="50" ry="64.3" fill="url(#f)" opacity="0.03"/>
<ellipse cx="104" cy="55.9" rx="42.9" ry="35.7" fill="url(#f)" opacity="0.05"/>
<ellipse cx="257.7" cy="20.3" rx="6.7" ry="5.6" fill="url(#g)" opacity="0.48" transform="rotate(30 257.7 20.3)"/>
<ellipse cx="270.5" cy="113.5" rx="40" ry="16.7" fill="url(#g)" opacity="0.38" transform="rotate(8 270.5 113.5)"/>
<ellipse cx="264" cy="111.9" rx="13.3" ry="11.1" fill="url(#g)" opacity="0.12"/>
<ellipse cx="284.4" cy="121.6" rx="13.3" ry="11.1" fill="url(#g)" opacity="0.18"/>
<ellipse cx="279" cy="132.9" rx="8.9" ry="8.9" fill="url(#g)" opacity="0.12"/>
<ellipse cx="307.5" cy="129.7" rx="5.6" ry="8.9" fill="url(#g)" opacity="0.34"/>
<ellipse cx="264.7" cy="84.6" rx="7.8" ry="8.9" fill="url(#g)" opacity="0.14"/>
<ellipse cx="252" cy="61.5" rx="6.7" ry="8.9" fill="url(#g)" opacity="0.18"/>
<ellipse cx="328.4" cy="97.3" rx="8.9" ry="11.1" fill="url(#g)" opacity="0.36"/>
<ellipse cx="342.2" cy="83.4" rx="8.9" ry="8.9" fill="url(#g)" opacity="0.22"/>
<ellipse cx="334" cy="90.9" rx="31.1" ry="31.1" fill="url(#g)" opacity="0.15"/>
<ellipse cx="316.8" cy="61.5" rx="13.3" ry="11.1" fill="url(#g)" opacity="0.06"/>
<ellipse cx="335.3" cy="178.4" rx="17.8" ry="10" fill="url(#g)" opacity="0.38" transform="rotate(-10 335.3 178.4)"/>
<ellipse cx="356.1" cy="167.9" rx="13.3" ry="11.1" fill="url(#g)" opacity="0.24"/>
<ellipse cx="323.7" cy="202.7" rx="13.3" ry="8.9" fill="url(#g)" opacity="0.42" transform="rotate(-15 323.7 202.7)"/>
<ellipse cx="294.8" cy="214.2" rx="8.9" ry="7.8" fill="url(#g)" opacity="0.36"/>
<ellipse cx="302.9" cy="195.7" rx="7.8" ry="13.3" fill="url(#g)" opacity="0.18"/>
<ellipse cx="337.6" cy="137.8" rx="20" ry="17.8" fill="url(#g)" opacity="0.18"/>
<ellipse cx="217.2" cy="68.4" rx="13.3" ry="13.3" fill="url(#g)" opacity="0.12"/>
<ellipse cx="208" cy="107.8" rx="17.8" ry="15.6" fill="url(#g)" opacity="0.13"/>
<ellipse cx="159.4" cy="156.4" rx="17.8" ry="11.1" fill="url(#g)" opacity="0.32"/>
<ellipse cx="129.3" cy="159.8" rx="13.3" ry="13.3" fill="url(#g)" opacity="0.24"/>
<ellipse cx="143" cy="158.9" rx="48.9" ry="17.8" fill="url(#g)" opacity="0.12" transform="rotate(5 143 158.9)"/>
<ellipse cx="91" cy="114.7" rx="8.9" ry="11.1" fill="url(#g)" opacity="0.17"/>
<ellipse cx="94.6" cy="86.9" rx="15.6" ry="15.6" fill="url(#g)" opacity="0.12"/>
<ellipse cx="115.4" cy="93.9" rx="13.3" ry="13.3" fill="url(#g)" opacity="0.08"/>
<ellipse cx="103.8" cy="59.1" rx="13.3" ry="13.3" fill="url(#g)" opacity="0.12"/>
<ellipse cx="117.7" cy="45.3" rx="13.3" ry="13.3" fill="url(#g)" opacity="0.07"/>
<ellipse cx="194" cy="147.1" rx="13.3" ry="11.1" fill="url(#g)" opacity="0.20" transform="rotate(20 194 147.1)"/>
<ellipse cx="238" cy="167.9" rx="11.1" ry="8.9" fill="url(#g)" opacity="0.08"/>
<ellipse cx="159.4" cy="197.9" rx="13.3" ry="8.9" fill="url(#g)" opacity="0.18"/>
<ellipse cx="177.9" cy="202.7" rx="13.3" ry="8.9" fill="url(#g)" opacity="0.13"/>
<ellipse cx="182.4" cy="203.9" rx="11.1" ry="8.9" fill="url(#g)" opacity="0.06"/>
<ellipse cx="256.4" cy="214.4" rx="13.3" ry="8.9" fill="url(#g)" opacity="0.12" transform="rotate(20 256.4 214.4)"/>
<ellipse cx="272" cy="277.4" rx="8.9" ry="13.3" fill="url(#g)" opacity="0.16"/>
<ellipse cx="266" cy="315.3" rx="8.9" ry="8.9" fill="url(#g)" opacity="0.07"/>
<ellipse cx="242.2" cy="259.5" rx="13.3" ry="13.3" fill="url(#g)" opacity="0.05"/>
<ellipse cx="170.5" cy="245.6" rx="17.8" ry="11.1" fill="url(#g)" opacity="0.04"/>
<ellipse cx="469" cy="204.3" rx="6.7" ry="11.1" fill="url(#g)" opacity="0.26"/>
<ellipse cx="474.2" cy="182.2" rx="8.9" ry="13.3" fill="url(#g)" opacity="0.16"/>
<ellipse cx="432.7" cy="213.4" rx="11.1" ry="13.3" fill="url(#g)" opacity="0.10"/>
<ellipse cx="454" cy="200.9" rx="55.6" ry="88.9" fill="url(#g)" opacity="0.04" transform="rotate(-15 454 200.9)"/>
</g></g>
<use href="#land" fill="#fff07e" fill-opacity="0.2" stroke="#000010" stroke-width="1.75" stroke-linejoin="round"/>
<use href="#bord" fill="none" stroke="#000010" stroke-width="1.6" stroke-linejoin="round" stroke-linecap="round"/>
<use href="#isl" fill="#000010" stroke="#000010" stroke-width="0.8"/>
</g>
</g>
<rect x="1406.2" y="594.1" width="14.9" height="387.1" fill="url(#cb)"/>
<rect x="1406.5" y="594.4" width="14.4" height="386.6" fill="none" stroke="#262626" stroke-opacity="0.6" stroke-width="0.6"/>
<text transform="translate(1428.1 990.7) scale(1 1.04)" font-size="22.6">0</text>
<path d="M1421.1 852.2h-4.2" stroke="#262626" stroke-opacity="0.8" stroke-width="0.8"/>
<text transform="translate(1428.1 861.67) scale(1 1.04)" font-size="22.6">0.5</text>
<path d="M1421.1 723.1h-4.2" stroke="#262626" stroke-opacity="0.8" stroke-width="0.8"/>
<text transform="translate(1428.1 732.63) scale(1 1.04)" font-size="22.6">1</text>
<text transform="translate(1428.1 603.6) scale(1 1.04)" font-size="22.6">1.5</text>
<text transform="translate(1422.5 586.1) scale(1 1.04)" font-size="22.6"><tspan font-weight="normal" font-size="27" dy="2.8">×</tspan><tspan dx="2.8" dy="-2.8">10</tspan><tspan font-size="17.6" dx="1.5" dy="-11.0">-10</tspan></text>
<text transform="translate(1493.4 788.65) rotate(-90) scale(1 1.04)" text-anchor="middle" font-size="23.6">(kg.m<tspan font-size="18.6" dy="-10.5">-2</tspan><tspan dy="10.5">.s</tspan><tspan font-size="18.6" dy="-10.5">-1</tspan><tspan dy="10.5">)</tspan></text>
<text transform="translate(1129.1 583.2) scale(1 1.04)" text-anchor="middle" font-size="28.3" style="fill:#000">BC biomass burning-SON (El Nino)</text>
<text transform="translate(1282.3 668) scale(1 0.965)" font-size="41.8" style="fill:#fff;font-weight:normal">(d)</text>
<text transform="translate(922.9 1022.7) scale(1 1.04)" text-anchor="middle" font-size="25.8">10<tspan font-size="20.2" dy="-12.5">o</tspan><tspan dy="12.5">E</tspan></text>
<text transform="translate(1034.4 1022.7) scale(1 1.04)" text-anchor="middle" font-size="25.8">20<tspan font-size="20.2" dy="-12.5">o</tspan><tspan dy="12.5">E</tspan></text>
<text transform="translate(1145.9 1022.7) scale(1 1.04)" text-anchor="middle" font-size="25.8">30<tspan font-size="20.2" dy="-12.5">o</tspan><tspan dy="12.5">E</tspan></text>
<text transform="translate(1257.4 1022.7) scale(1 1.04)" text-anchor="middle" font-size="25.8">40<tspan font-size="20.2" dy="-12.5">o</tspan><tspan dy="12.5">E</tspan></text>
<text transform="translate(1368.9 1022.7) scale(1 1.04)" text-anchor="middle" font-size="25.8">50<tspan font-size="20.2" dy="-12.5">o</tspan><tspan dy="12.5">E</tspan></text>
<text transform="translate(1128.7 1058.2) scale(1 1.04)" text-anchor="middle" font-size="27.6">Longitude</text>
<text transform="translate(873.4 609.9) scale(1 1.04)" text-anchor="end" font-size="25.8">0</text>
<text transform="translate(873.4 718.35) scale(1 1.04)" text-anchor="end" font-size="25.8">10<tspan font-size="20.2" dy="-12.5">o</tspan><tspan dy="12.5">S</tspan></text>
<text transform="translate(873.4 823.2) scale(1 1.04)" text-anchor="end" font-size="25.8">20<tspan font-size="20.2" dy="-12.5">o</tspan><tspan dy="12.5">S</tspan></text>
<text transform="translate(873.4 928.05) scale(1 1.04)" text-anchor="end" font-size="25.8">30<tspan font-size="20.2" dy="-12.5">o</tspan><tspan dy="12.5">S</tspan></text>
<text transform="translate(806.6 787.65) rotate(-90) scale(1 1.04)" text-anchor="middle" font-size="27.6">Latitude</text>
</svg></body></html>
